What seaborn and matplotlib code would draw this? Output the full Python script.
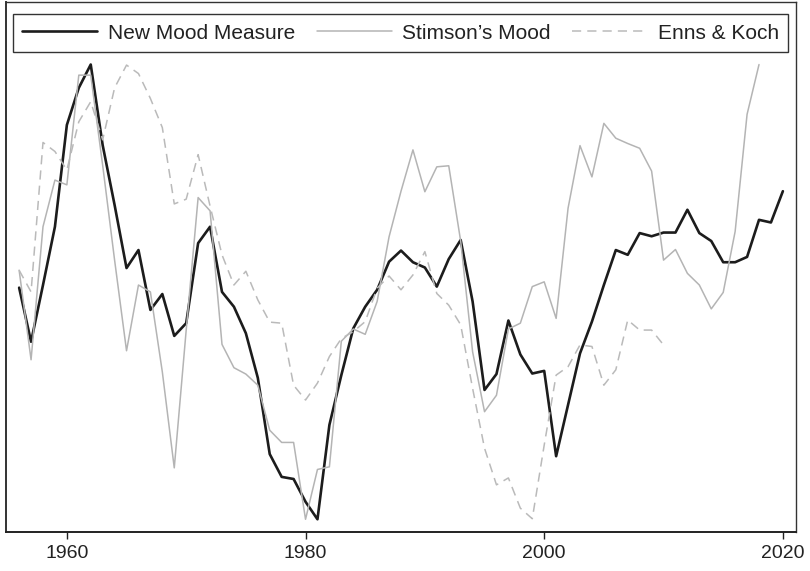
#!/usr/bin/env python
# Policy mood: new measure vs. Stimson's mood vs. Enns & Koch

import numpy as np
import pandas as pd
import seaborn as sns
import matplotlib.pyplot as plt

# Values (no y scale shown, arbitrary units)
new_years = np.arange(1956, 2021)
new_mood = [
    46.1, 35.9, 46.6, 57.6, 76.8, 83.8, 88.2, 73.0, 61.7, 49.8,
    53.2, 41.9, 44.9, 37.0, 39.4, 54.5, 57.6, 45.3, 42.5, 37.5,
    29.1, 14.7, 10.4, 10.0, 5.7, 2.4, 20.2, 29.6, 38.4, 42.5,
    45.7, 51.0, 53.1, 50.9, 49.9, 46.3, 51.5, 55.1, 43.5, 26.8,
    29.8, 39.9, 33.5, 29.9, 30.4, 14.3, 24.0, 33.7, 39.7, 46.6,
    53.2, 52.3, 56.4, 55.8, 56.5, 56.5, 60.8, 56.4, 54.9, 50.9,
    50.9, 51.9, 58.9, 58.4, 64.3,
]

stimson_years = np.arange(1956, 2019)
stimson_mood = [
    49.4, 32.5, 57.6, 66.4, 65.5, 86.2, 86.2, 69.2, 51.3, 34.2,
    46.6, 45.3, 30.2, 12.1, 38.1, 63.1, 60.6, 35.4, 31.0, 29.8,
    27.7, 19.2, 16.9, 16.9, 2.4, 11.8, 12.3, 36.0, 38.3, 37.3,
    43.5, 55.7, 64.3, 72.1, 64.2, 68.9, 69.1, 54.9, 34.0, 22.7,
    25.8, 38.3, 39.4, 46.3, 47.2, 40.3, 61.1, 72.9, 67.0, 77.1,
    74.3, 73.3, 72.4, 68.1, 51.3, 53.3, 48.8, 46.6, 42.1, 45.2,
    56.7, 78.8, 88.2,
]

enns_years = np.arange(1956, 2011)
enns_koch = [
    49.4, 45.3, 73.5, 71.8, 68.3, 77.4, 81.2, 74.0, 83.8, 88.1,
    86.5, 81.8, 76.3, 61.9, 62.8, 71.2, 61.5, 52.3, 46.6, 49.2,
    43.8, 39.6, 39.4, 27.7, 24.9, 28.1, 33.1, 36.5, 37.8, 39.7,
    46.0, 48.3, 45.7, 48.5, 52.9, 45.0, 42.8, 39.1, 27.1, 15.8,
    8.9, 10.2, 4.5, 2.5, 16.4, 29.6, 31.2, 35.3, 35.0, 27.7,
    30.6, 40.0, 38.1, 38.1, 35.3,
]

x_ticks = [1960, 1980, 2000, 2020]

sns.set_style("white")
plt.rcParams['font.family'] = ['Liberation Sans', 'DejaVu Sans']

fig = plt.figure(figsize=(8.10, 5.71), dpi=100)
ax = fig.add_axes([6 / 810, 39 / 571, 790 / 810, 530 / 571])

sns.lineplot(x=new_years, y=new_mood, ax=ax, color='#1c1c1c',
             linewidth=1.9, label='New Mood Measure')
sns.lineplot(x=stimson_years, y=stimson_mood, ax=ax, color='#b4b4b4',
             linewidth=1.1, label='Stimson\u2019s Mood')
sns.lineplot(x=enns_years, y=enns_koch, ax=ax, color='#bababa',
             linewidth=1.1, dashes=(6, 4), label='Enns & Koch')
ax.lines[2].set_dashes((6, 4))

ax.set_xlim(1954.9, 2021.1)
ax.set_ylim(0, 100)
ax.set_xticks(x_ticks)
ax.set_xticklabels([str(t) for t in x_ticks], fontsize=14)
ax.set_yticks([])
ax.set_xlabel('')
ax.set_ylabel('')
ax.tick_params(axis='x', direction='out', length=5, width=1, color='#222222',
               bottom=True, pad=4, labelcolor='#222222')

for side in ['left', 'right', 'top', 'bottom']:
    ax.spines[side].set_visible(True)
    ax.spines[side].set_color('#333333')
    ax.spines[side].set_linewidth(1.0)
ax.spines['bottom'].set_color('#222222')
ax.spines['bottom'].set_linewidth(1.4)
ax.spines['left'].set_linewidth(1.4)

# Legend box sits inside the frame across the top
x0 = (13 - 6) / 790
x1 = (788 - 6) / 790
y1 = (532 - 13) / 530
y0 = (532 - 52) / 530
leg = ax.legend(loc='lower left', bbox_to_anchor=(x0, y0, x1 - x0, y1 - y0),
                mode='expand', ncol=3, borderaxespad=0, fontsize=15,
                handlelength=3.6, handletextpad=0.5, borderpad=0.45,
                fancybox=False, framealpha=1, edgecolor='#333333')
leg.get_frame().set_linewidth(1.0)
for txt in leg.get_texts():
    txt.set_color('#222222')

fig.savefig('out.png', dpi=100)
